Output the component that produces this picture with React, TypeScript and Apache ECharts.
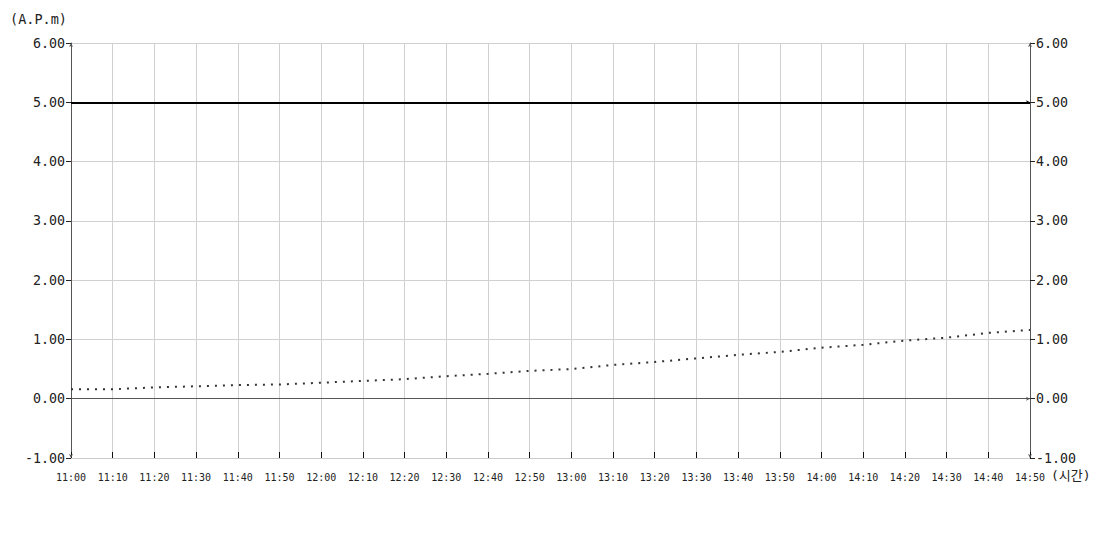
import React, { useEffect, useRef } from "react";
import * as echarts from "echarts";

const categories = [
  "11:00", "11:10", "11:20", "11:30", "11:40", "11:50",
  "12:00", "12:10", "12:20", "12:30", "12:40", "12:50",
  "13:00", "13:10", "13:20", "13:30", "13:40", "13:50",
  "14:00", "14:10", "14:20", "14:30", "14:40", "14:50",
];
const measured = [
  0.16, 0.16, 0.19, 0.21, 0.23, 0.24,
  0.27, 0.30, 0.33, 0.38, 0.42, 0.47,
  0.50, 0.57, 0.62, 0.68, 0.74, 0.79,
  0.86, 0.91, 0.98, 1.03, 1.11, 1.16,
];
const limitValue = 5;
const zeroValue = 0;
const yMin = -1;
const yMax = 6;
const yInterval = 1;
const yName = "(A.P.m)";
const xName = "(시간)";

const FONT = "'DejaVu Sans Mono', 'Noto Sans CJK KR', monospace";

export default function App() {
  const ref = useRef<HTMLDivElement>(null);
  useEffect(() => {
    if (!ref.current) return;
    const chart = echarts.init(ref.current, undefined, { renderer: "svg" });
    const yAxisCommon = {
      type: "value",
      min: yMin,
      max: yMax,
      interval: yInterval,
      axisLine: {
        show: true,
        lineStyle: { color: "#555", width: 1 },
        symbol: ["arrow", "arrow"],
        symbolSize: [3, 4],
      },
      axisTick: { show: true, length: 5, lineStyle: { color: "#222" } },
      axisLabel: {
        color: "#222",
        fontFamily: FONT,
        fontSize: 13.3,
        margin: 6,
        formatter: (v: number) => v.toFixed(2),
      },
    };
    chart.setOption({
      animation: false,
      backgroundColor: "#fff",
      grid: { left: 71, right: 70, top: 43, bottom: 92, containLabel: false },
      xAxis: {
        type: "category",
        data: categories,
        boundaryGap: false,
        name: xName,
        nameLocation: "end",
        nameGap: 5,
        nameTextStyle: {
          color: "#222",
          fontFamily: FONT,
          fontSize: 13,
          verticalAlign: "top",
          padding: [11, 0, 0, 0],
        },
        axisLine: { onZero: false, show: true, lineStyle: { color: "#ccc" } },
        axisTick: {
          show: true,
          inside: true,
          length: 6,
          interval: 0,
          lineStyle: { color: "#111", width: 1 },
        },
        axisLabel: {
          color: "#222",
          fontFamily: FONT,
          fontSize: 10,
          margin: 14,
          interval: 0,
        },
        splitLine: { show: true, lineStyle: { color: "#d0d0d0", width: 1 } },
      },
      yAxis: [
        {
          ...yAxisCommon,
          position: "left",
          name: yName,
          nameLocation: "end",
          nameGap: 17,
          nameTextStyle: {
            color: "#222",
            fontFamily: FONT,
            fontSize: 13.5,
            align: "right",
            padding: [0, 4, 0, 0],
          },
          splitLine: { show: true, lineStyle: { color: "#d0d0d0", width: 1 } },
        },
        {
          ...yAxisCommon,
          position: "right",
          splitLine: { show: false },
        },
      ],
      series: [
        {
          type: "line",
          data: measured,
          showSymbol: false,
          symbol: "none",
          lineStyle: { color: "#333", width: 2, type: [2, 6] },
          markLine: {
            silent: true,
            symbol: ["none", "arrow"],
            symbolSize: [3, 4],
            label: { show: false },
            data: [
              {
                yAxis: limitValue,
                symbol: "none",
                lineStyle: { color: "#000", width: 2, type: "solid" },
              },
              {
                yAxis: zeroValue,
                lineStyle: { color: "#555", width: 1, type: "solid" },
              },
            ],
          },
        },
      ],
    });
    return () => chart.dispose();
  }, []);
  return (
    <div
      ref={ref}
      style={{ position: "absolute", left: 0, top: 0, width: 1100, height: 550, background: "#fff" }}
    />
  );
}
